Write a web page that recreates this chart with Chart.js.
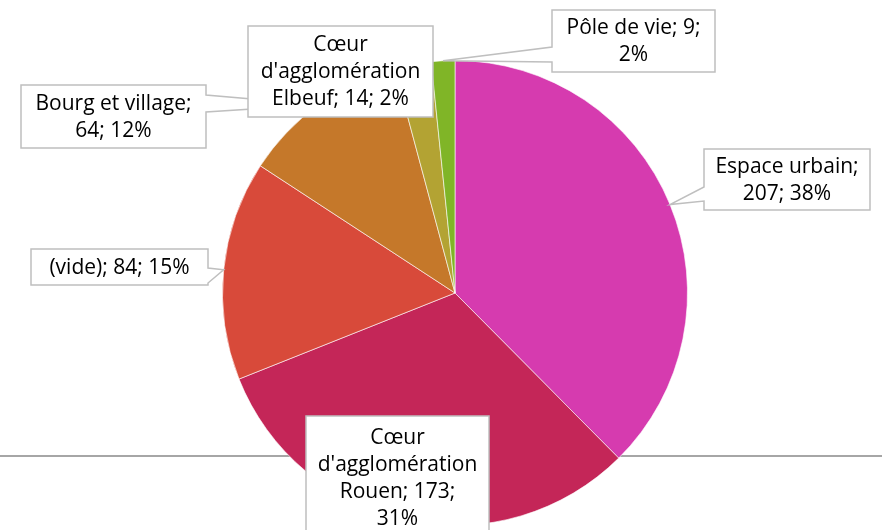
<!DOCTYPE html>
<html>
<head>
<meta charset="utf-8">
<script src="https://cdn.jsdelivr.net/npm/chart.js@4/dist/chart.umd.min.js"></script>
<style>
  html, body { margin: 0; padding: 0; background: #fff; }
  #wrap { width: 882px; height: 530px; position: relative; }
</style>
</head>
<body>
<div id="wrap"><canvas id="c" width="882" height="530"></canvas></div>
<script>
// ---- data ----
const categories = ["Espace urbain", "Cœur d'agglomération Rouen", "(vide)", "Bourg et village", "Cœur d'agglomération Elbeuf", "Pôle de vie"];
const values = [207, 173, 84, 64, 14, 9];
const percents = ["38%", "31%", "15%", "12%", "2%", "2%"];
const colors = ["#D63BAF", "#C42658", "#D84A3A", "#C5782A", "#B3A333", "#80B527"];

// ---- label layout (box placement, wedge side and base, wrap width) ----
const boxes = [
  { x: 704, y: 149, w: 166, h: 61, side: 'left', b1: 187, b2: 201, wrap: 160 },
  { x: 306, y: 416, w: 183, h: 123, side: null, wrap: 150 },
  { x: 31, y: 249, w: 177, h: 36, side: 'right', b1: 268, b2: 283, wrap: 175 },
  { x: 21, y: 85, w: 185, h: 63, side: 'right', b1: 95, b2: 112, wrap: 180 },
  { x: 248, y: 26, w: 185, h: 91, side: null, wrap: 180 },
  { x: 552, y: 10, w: 163, h: 62, side: 'left', b1: 47, b2: 62, wrap: 158 }
];
const FONT = '21px "Open Sans"';
const LINE_H = 27;

function wrapText(ctx, text, maxW) {
  const words = text.split(' ');
  const lines = [];
  let cur = '';
  for (const w of words) {
    const t = cur ? cur + ' ' + w : w;
    if (cur && ctx.measureText(t).width > maxW) { lines.push(cur); cur = w; }
    else cur = t;
  }
  if (cur) lines.push(cur);
  return lines;
}

const calloutPlugin = {
  id: 'callouts',
  beforeDatasetsDraw(chart) {
    const ctx = chart.ctx;
    ctx.save();
    ctx.strokeStyle = '#A6A6A6';
    ctx.lineWidth = 2;
    ctx.beginPath();
    ctx.moveTo(0, 456);
    ctx.lineTo(chart.width, 456);
    ctx.stroke();
    ctx.restore();
  },
  afterDatasetsDraw(chart) {
    const ctx = chart.ctx;
    const meta = chart.getDatasetMeta(0);
    ctx.save();
    ctx.font = FONT;
    meta.data.forEach((arc, i) => {
      const b = boxes[i];
      const mid = (arc.startAngle + arc.endAngle) / 2;
      const tx = arc.x + Math.cos(mid) * arc.outerRadius;
      const ty = arc.y + Math.sin(mid) * arc.outerRadius;
      ctx.beginPath();
      ctx.moveTo(b.x, b.y);
      ctx.lineTo(b.x + b.w, b.y);
      if (b.side === 'right') {
        ctx.lineTo(b.x + b.w, b.b1);
        ctx.lineTo(tx, ty);
        ctx.lineTo(b.x + b.w, b.b2);
      }
      ctx.lineTo(b.x + b.w, b.y + b.h);
      ctx.lineTo(b.x, b.y + b.h);
      if (b.side === 'left') {
        ctx.lineTo(b.x, b.b2);
        ctx.lineTo(tx, ty);
        ctx.lineTo(b.x, b.b1);
      }
      ctx.closePath();
      ctx.fillStyle = '#FFFFFF';
      ctx.fill();
      ctx.strokeStyle = '#BFBFBF';
      ctx.lineWidth = 1.5;
      ctx.stroke();

      const text = categories[i] + '; ' + values[i] + '; ' + percents[i];
      const lines = wrapText(ctx, text, b.wrap);
      ctx.fillStyle = '#000000';
      ctx.textAlign = 'center';
      ctx.textBaseline = 'middle';
      const cy = b.y + b.h / 2;
      const y0 = cy - (lines.length - 1) * LINE_H / 2;
      lines.forEach((ln, k) => ctx.fillText(ln, b.x + b.w / 2, y0 + k * LINE_H + 1));
    });
    ctx.restore();
  }
};

new Chart(document.getElementById('c'), {
  type: 'pie',
  data: {
    labels: categories,
    datasets: [{
      data: values,
      backgroundColor: colors,
      borderColor: 'rgba(255,255,255,0.6)',
      borderWidth: 1
    }]
  },
  options: {
    responsive: false,
    animation: false,
    layout: { padding: { left: 222, right: 194, top: 60, bottom: 4 } },
    plugins: {
      legend: { display: false },
      tooltip: { enabled: false }
    }
  },
  plugins: [calloutPlugin]
});
</script>
</body>
</html>
